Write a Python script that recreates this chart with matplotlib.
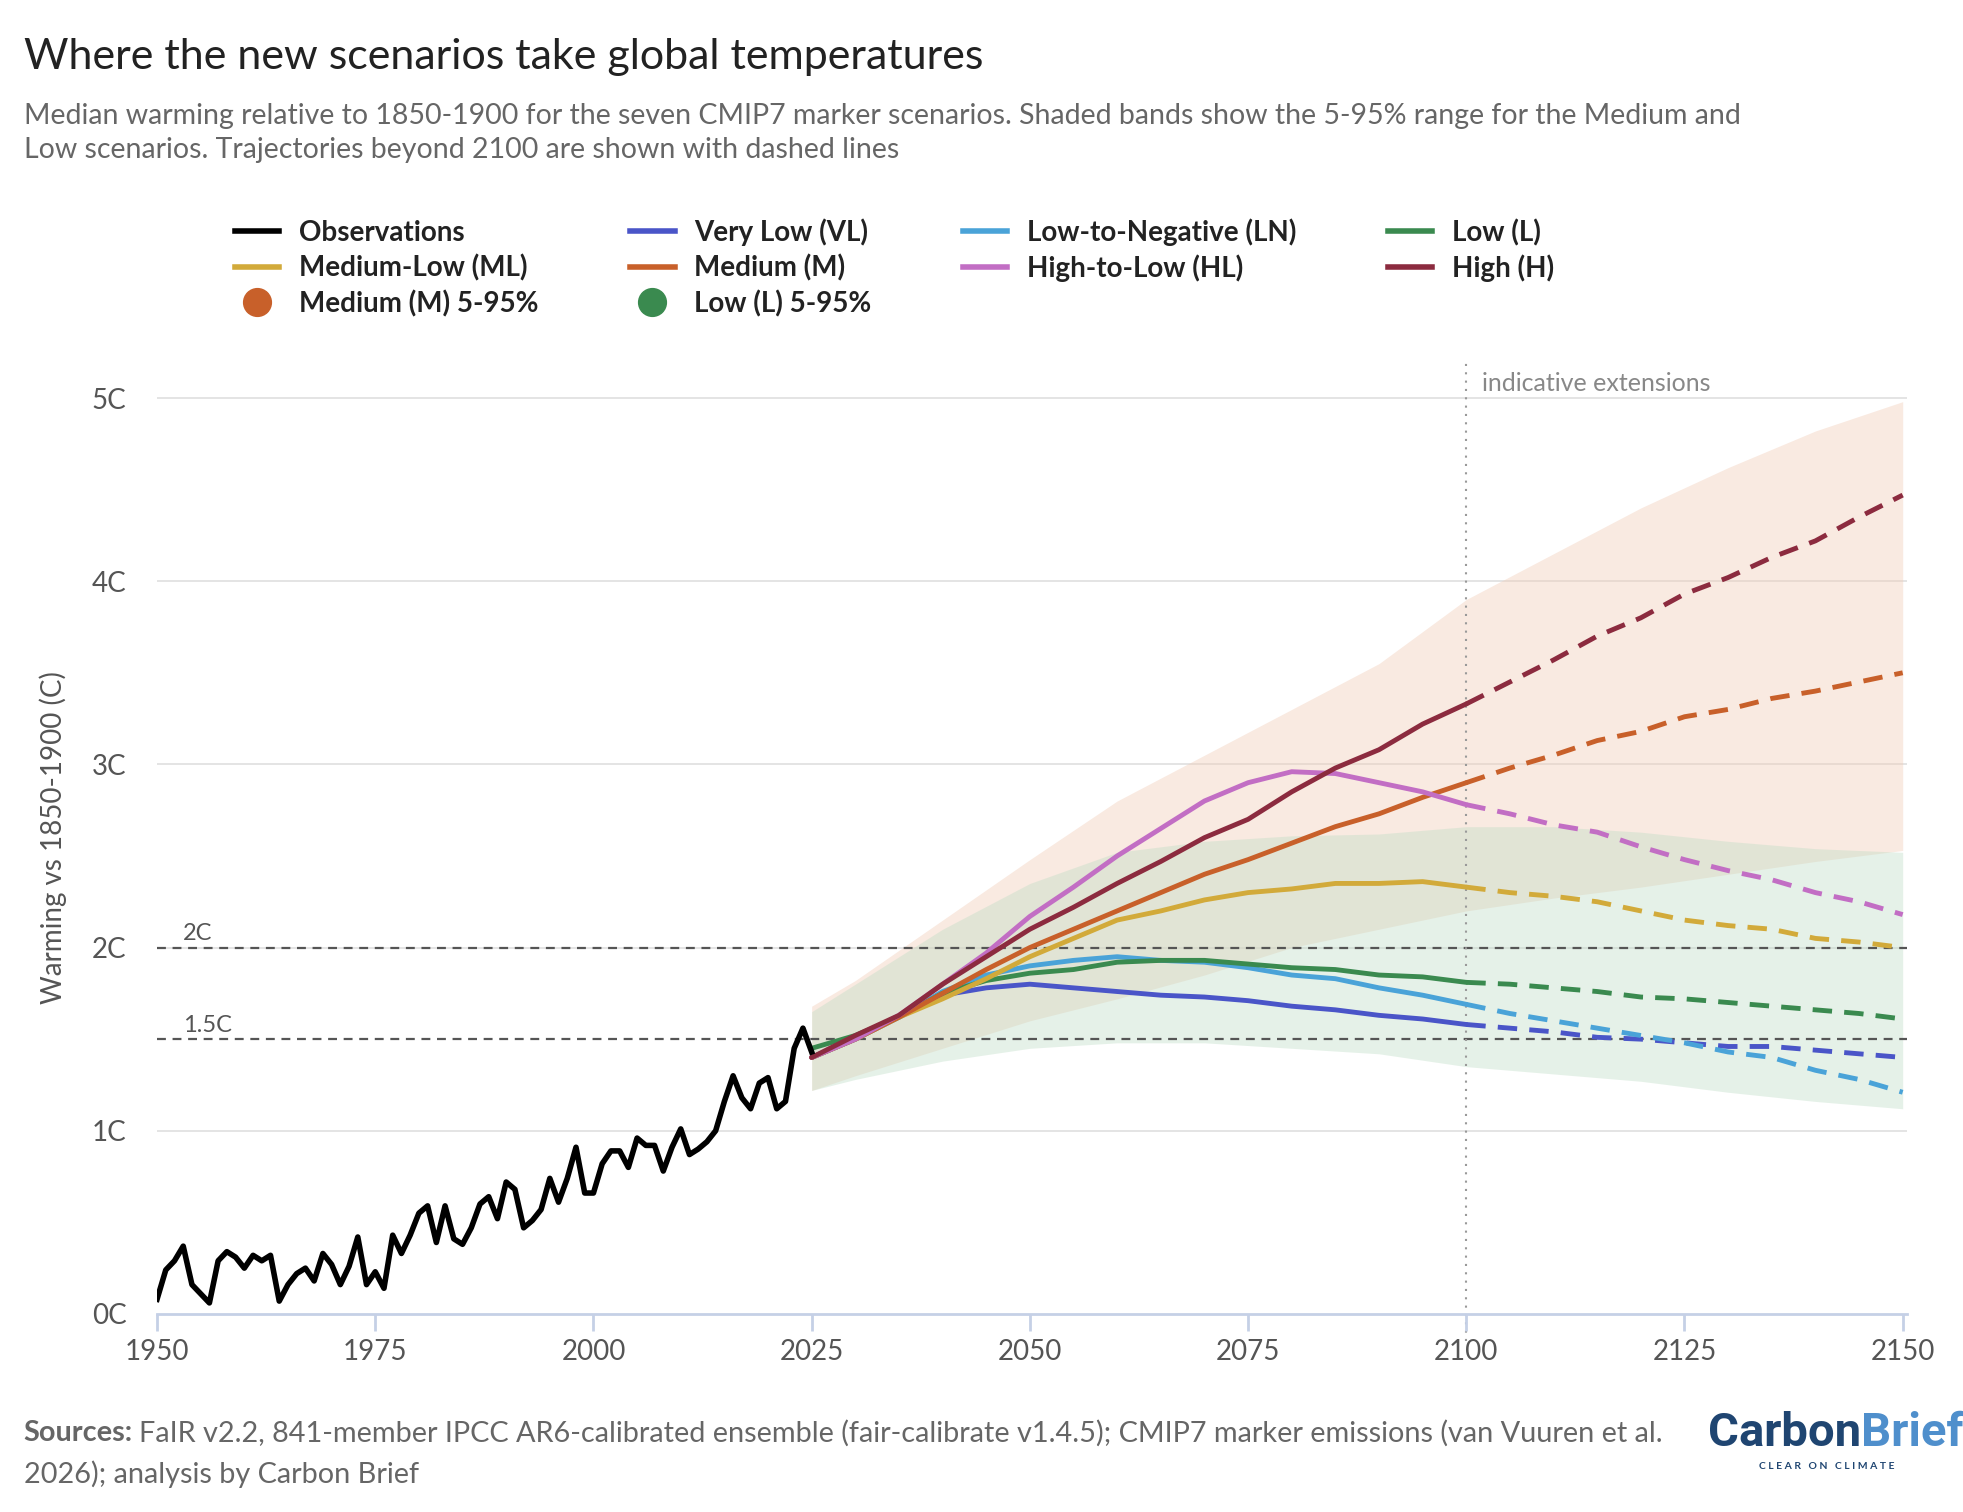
import matplotlib
matplotlib.use("Agg")
import matplotlib.pyplot as plt
from matplotlib.lines import Line2D
import numpy as np

plt.rcParams['font.family'] = ['Lato', 'DejaVu Sans']

obs_years = list(range(1950, 2026))
obs = [0.08,0.24,0.29,0.37,0.16,0.11,0.06,0.29,0.34,0.31,0.25,0.32,0.29,0.32,0.07,0.16,0.22,0.25,0.18,0.33,
       0.27,0.16,0.26,0.42,0.16,0.23,0.14,0.43,0.33,0.43,0.55,0.59,0.39,0.59,0.41,0.38,0.47,0.60,0.64,0.52,
       0.72,0.68,0.47,0.51,0.57,0.74,0.61,0.74,0.91,0.66,0.66,0.82,0.89,0.89,0.80,0.96,0.92,0.92,0.78,0.91,
       1.01,0.87,0.90,0.94,1.00,1.16,1.30,1.18,1.12,1.26,1.29,1.12,1.16,1.45,1.56,1.43]

scen_years = list(range(2025, 2151, 5))
H  = [1.40,1.52,1.63,1.80,1.95,2.10,2.22,2.35,2.47,2.60,2.70,2.85,2.98,3.08,3.22,3.33,3.45,3.57,3.70,3.80,3.93,4.02,4.13,4.22,4.35,4.47]
M  = [1.40,1.50,1.62,1.75,1.88,2.00,2.10,2.20,2.30,2.40,2.48,2.57,2.66,2.73,2.82,2.90,2.98,3.05,3.13,3.18,3.26,3.30,3.36,3.40,3.45,3.50]
HL = [1.40,1.50,1.63,1.80,1.97,2.17,2.33,2.50,2.65,2.80,2.90,2.96,2.95,2.90,2.85,2.78,2.73,2.67,2.63,2.55,2.48,2.42,2.37,2.30,2.25,2.18]
ML = [1.40,1.50,1.62,1.72,1.83,1.95,2.05,2.15,2.20,2.26,2.30,2.32,2.35,2.35,2.36,2.33,2.30,2.28,2.25,2.20,2.15,2.12,2.10,2.05,2.03,2.00]
L  = [1.45,1.52,1.62,1.75,1.82,1.86,1.88,1.92,1.93,1.93,1.91,1.89,1.88,1.85,1.84,1.81,1.80,1.78,1.76,1.73,1.72,1.70,1.68,1.66,1.64,1.61]
LN = [1.40,1.50,1.62,1.76,1.85,1.90,1.93,1.95,1.93,1.92,1.89,1.85,1.83,1.78,1.74,1.69,1.64,1.60,1.56,1.52,1.48,1.43,1.40,1.33,1.28,1.21]
VL = [1.40,1.50,1.62,1.74,1.78,1.80,1.78,1.76,1.74,1.73,1.71,1.68,1.66,1.63,1.61,1.58,1.56,1.54,1.51,1.50,1.48,1.46,1.46,1.44,1.42,1.40]

band_years = [2025,2030,2040,2050,2060,2070,2080,2090,2100,2110,2120,2130,2140,2150]
M_lo = [1.22,1.30,1.45,1.60,1.72,1.85,2.00,2.10,2.20,2.27,2.33,2.40,2.47,2.53]
M_hi = [1.68,1.82,2.15,2.48,2.80,3.05,3.30,3.55,3.90,4.15,4.40,4.62,4.82,4.98]
L_lo = [1.22,1.28,1.38,1.45,1.48,1.48,1.45,1.42,1.35,1.31,1.27,1.21,1.16,1.12]
L_hi = [1.65,1.80,2.10,2.35,2.52,2.58,2.61,2.62,2.66,2.66,2.63,2.58,2.54,2.52]

scenarios = [("Very Low (VL)", VL, "#4a55c8"), ("Low-to-Negative (LN)", LN, "#4aa3d8"),
             ("Low (L)", L, "#3a8a4f"), ("Medium-Low (ML)", ML, "#d2aa3a"),
             ("Medium (M)", M, "#c8602a"), ("High-to-Low (HL)", HL, "#c26ec4"),
             ("High (H)", H, "#8c2b3f")]

fig = plt.figure(figsize=(19.63, 15.12), dpi=100)
ax = fig.add_axes([0.080, 0.131, 0.8915, 0.630])

ax.fill_between(band_years, M_lo, M_hi, color="#f2cdb8", alpha=0.42, lw=0)
ax.fill_between(band_years, L_lo, L_hi, color="#bcdcc4", alpha=0.38, lw=0)

for yv in [1, 2, 3, 4, 5]:
    ax.axhline(yv, color="#e2e2e2", lw=1.3, zorder=0)
ax.axhline(2.0, color="#555555", lw=1.6, ls=(0, (4, 3)), zorder=1)
ax.axhline(1.5, color="#555555", lw=1.6, ls=(0, (4, 3)), zorder=1)
ax.text(1953, 2.04, "2C", fontsize=17, color="#555555")
ax.text(1953, 1.54, "1.5C", fontsize=17, color="#555555")

ax.plot([2100, 2100], [-0.15, 5.2], color="#999999", lw=1.5, ls=(0, (1, 3)), zorder=1, clip_on=False)
ax.text(2101.8, 5.04, "indicative extensions", fontsize=18, color="#888888")

sy = np.array(scen_years)
for name, vals, col in scenarios:
    v = np.array(vals)
    m1 = sy <= 2100
    m2 = sy >= 2100
    ax.plot(sy[m1], v[m1], color=col, lw=3.5, zorder=3, solid_capstyle='round')
    ax.plot(sy[m2], v[m2], color=col, lw=3.5, ls=(0, (4, 2.5)), zorder=3)

ax.plot(obs_years, obs, color="black", lw=4, zorder=4)

ax.set_xlim(1950, 2150.5)
ax.set_ylim(0, 5.2)
ax.set_xticks(range(1950, 2151, 25))
ax.set_yticks([0, 1, 2, 3, 4, 5])
ax.set_yticklabels(["0C", "1C", "2C", "3C", "4C", "5C"])
for s in ["top", "right", "left"]:
    ax.spines[s].set_visible(False)
ax.spines["bottom"].set_color("#c5d0e6")
ax.spines["bottom"].set_linewidth(2)
ax.tick_params(axis="x", colors="#c5d0e6", length=12, width=2, labelcolor="#555555", labelsize=20, pad=6)
ax.tick_params(axis="y", length=0, labelcolor="#555555", labelsize=20, pad=22)
ax.set_ylabel("Warming vs 1850-1900 (C)", fontsize=20, color="#555555", labelpad=18)

handles = [
    Line2D([], [], color="black", lw=4),
    Line2D([], [], color="#d2aa3a", lw=4),
    Line2D([], [], marker="o", ls="none", color="#c8602a", markersize=20),
    Line2D([], [], color="#4a55c8", lw=4),
    Line2D([], [], color="#c8602a", lw=4),
    Line2D([], [], marker="o", ls="none", color="#3a8a4f", markersize=20),
    Line2D([], [], color="#4aa3d8", lw=4),
    Line2D([], [], color="#c26ec4", lw=4),
    Line2D([], [], color="#3a8a4f", lw=4),
    Line2D([], [], color="#8c2b3f", lw=4),
]
labels = ["Observations", "Medium-Low (ML)", "Medium (M) 5-95%",
          "Very Low (VL)", "Medium (M)", "Low (L) 5-95%",
          "Low-to-Negative (LN)", "High-to-Low (HL)",
          "Low (L)", "High (H)"]
leg = fig.legend(handles, labels, ncol=4, loc="upper left", bbox_to_anchor=(0.107, 0.872),
                 frameon=False, prop={"weight": "bold", "size": 20}, handlelength=1.6,
                 columnspacing=3.3, labelspacing=0.3, handletextpad=0.7)
for t in leg.get_texts():
    t.set_color("#222222")

fig.text(0.012, 0.975, "Where the new scenarios take global temperatures", fontsize=31, color="#222222", va="top")
fig.text(0.012, 0.932, "Median warming relative to 1850-1900 for the seven CMIP7 marker scenarios. Shaded bands show the 5-95% range for the Medium and\nLow scenarios. Trajectories beyond 2100 are shown with dashed lines",
         fontsize=20.5, color="#666666", va="top", linespacing=1.4)

t1 = fig.text(0.012, 0.052, "Sources:", fontsize=20.8, color="#666666", va="center", weight="bold")
fig.canvas.draw()
bb = t1.get_window_extent()
fig.text(bb.x1 / fig.bbox.width + 0.003, 0.052, "FaIR v2.2, 841-member IPCC AR6-calibrated ensemble (fair-calibrate v1.4.5); CMIP7 marker emissions (van Vuuren et al.",
         fontsize=20.8, color="#666666", va="center")
fig.text(0.012, 0.025, "2026); analysis by Carbon Brief", fontsize=20.8, color="#666666", va="center")

c1 = fig.text(0.870, 0.052, "Carbon", fontsize=34, weight="bold", color="#1f4571", va="center", family=["Roboto", "DejaVu Sans"])
fig.canvas.draw()
bb = c1.get_window_extent()
fig.text(bb.x1 / fig.bbox.width, 0.052, "Brief", fontsize=34, weight="bold", color="#4f8fcc", va="center", family=["Roboto", "DejaVu Sans"])
fig.text(0.896, 0.030, "C L E A R   O N   C L I M A T E", fontsize=7.5, weight="bold", color="#1f4571", va="center")

fig.savefig("out.png", dpi=100)
